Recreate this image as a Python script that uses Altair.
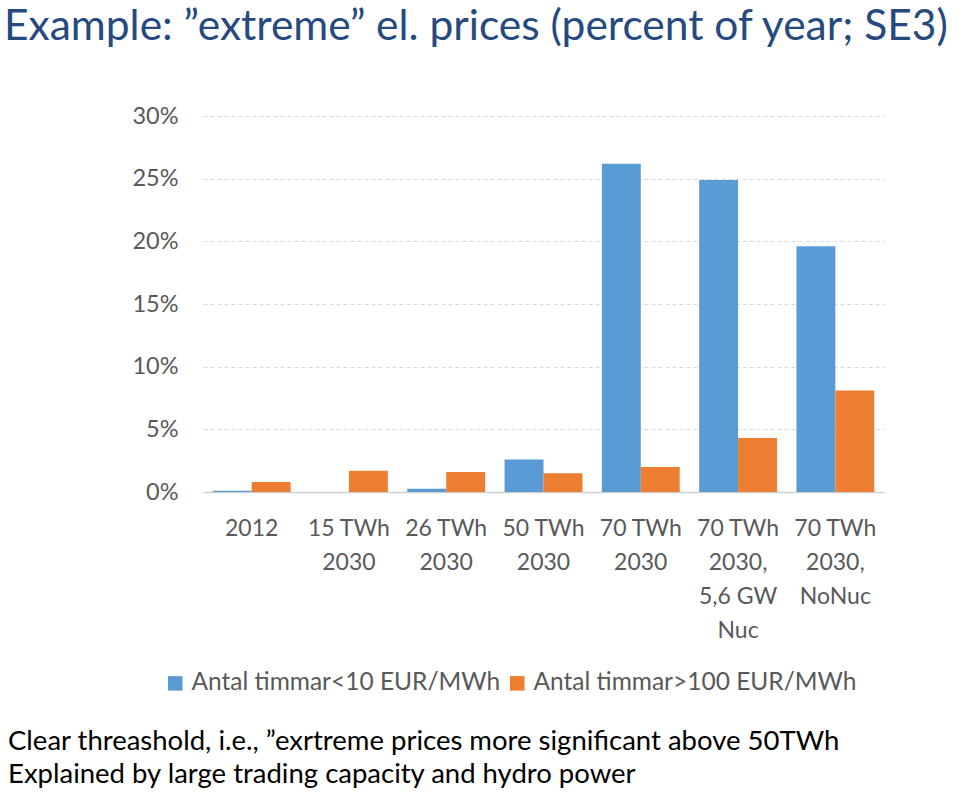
import altair as alt
import pandas as pd

categories = ["2012", "15 TWh|2030", "26 TWh|2030", "50 TWh|2030", "70 TWh|2030",
              "70 TWh|2030,|5,6 GW|Nuc", "70 TWh|2030,|NoNuc"]
series = ["Antal timmar<10 EUR/MWh", "Antal timmar>100 EUR/MWh"]
low_vals = [0.1, 0.0, 0.25, 2.6, 26.2, 24.9, 19.6]
high_vals = [0.8, 1.7, 1.6, 1.5, 2.0, 4.3, 8.1]
colors = ["#5B9BD5", "#ED7D31"]
notes = ["Clear threashold, i.e., \u201dexrtreme prices more significant above 50TWh",
         "Explained by large trading capacity and hydro power"]
title_text = ["Example: \u201dextreme\u201d el. prices (percent of year; SE3)"]

rows = []
for c, lo, hi in zip(categories, low_vals, high_vals):
    rows.append({"cat": c, "series": series[0], "value": lo / 100})
    rows.append({"cat": c, "series": series[1], "value": hi / 100})
df = pd.DataFrame(rows)

FONT = "Lato"
GREY = "#595959"

bars = alt.Chart(df).mark_bar().encode(
    x=alt.X("cat:N", sort=categories, title=None,
            scale=alt.Scale(paddingInner=0.2, paddingOuter=0.1),
            axis=alt.Axis(labelExpr="split(datum.value, '|')", labelAngle=0,
                          labelFontSize=23, labelColor=GREY, labelFont=FONT,
                          labelLineHeight=34, labelPadding=25, labelBaseline="top",
                          ticks=False, domainColor="#D0D0D0", domainWidth=1.5,
                          grid=False)),
    xOffset=alt.XOffset("series:N", sort=series),
    y=alt.Y("value:Q", title=None,
            scale=alt.Scale(domain=[0, 0.3], nice=False),
            axis=alt.Axis(format=".0%", values=[0, 0.05, 0.1, 0.15, 0.2, 0.25, 0.3],
                          labelFontSize=23.5, labelColor=GREY, labelFont=FONT,
                          labelPadding=25, ticks=False, domain=False,
                          grid=True, gridColor="#D9D9D9", gridDash=[4, 3], gridWidth=1)),
    color=alt.Color("series:N", sort=series,
                    scale=alt.Scale(domain=series, range=colors),
                    legend=alt.Legend(title=None, orient="none", direction="horizontal",
                                      legendX=-40, legendY=555,
                                      symbolType="square", symbolSize=210,
                                      symbolStrokeWidth=0, labelLimit=0,
                                      labelFontSize=24.5, labelColor=GREY, labelFont=FONT,
                                      columnPadding=4, labelOffset=4)),
)

notes_df = pd.DataFrame({"text": notes, "line": [0, 1]})
note_layer = alt.Chart(notes_df).mark_text(
    align="left", baseline="middle", fontSize=27.5, font=FONT, color="#000000"
).encode(
    x=alt.value(-195),
    y=alt.Y("line:Q", scale=alt.Scale(domain=[0, 1], range=[626, 659]), axis=None),
    text="text:N",
)

title_df = pd.DataFrame({"text": title_text})
title_layer = alt.Chart(title_df).mark_text(
    align="left", baseline="alphabetic", fontSize=42.5, font=FONT, color="#264A80"
).encode(
    x=alt.value(-199),
    y=alt.value(-76),
    text="text:N",
)

chart = alt.layer(bars, note_layer, title_layer).resolve_scale(y="independent").properties(
    width=681, height=376,
    padding={"left": 203, "top": 116, "right": 75, "bottom": 301},
    autosize=alt.AutoSizeParams(type="none"),
).configure_view(stroke=None)

chart.save("out.html", embed_options={"renderer": "svg", "actions": False})
